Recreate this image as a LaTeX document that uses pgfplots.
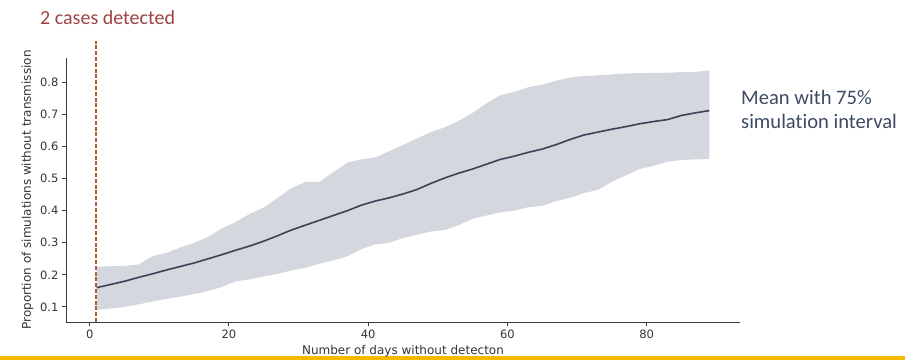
\documentclass[border=0pt]{standalone}
\usepackage{fontspec}
\setmainfont{DejaVu Sans}
\newfontfamily\calfont[Ligatures={NoCommon,NoContextual}]{Carlito}
\usepackage{pgfplots}
\pgfplotsset{compat=1.18}
\definecolor{bandc}{HTML}{D5D7DF}
\definecolor{meanc}{HTML}{3B4257}
\definecolor{dashc}{HTML}{B35A3A}
\definecolor{titlec}{HTML}{9E4244}
\definecolor{notec}{HTML}{3D4A63}
\definecolor{barc}{HTML}{F7B900}
\definecolor{axc}{HTML}{3A3A3A}

\begin{document}
\begin{tikzpicture}
\path[use as bounding box] (0pt,0pt) rectangle (905pt,360pt);
\fill[barc] (0pt,0pt) rectangle (905pt,4.5pt);
\begin{axis}[
  at={(66pt,38pt)}, anchor=south west,
  scale only axis, width=674pt, height=264pt,
  xmin=-3.4, xmax=93.4, ymin=0.053, ymax=0.876,
  axis lines*=left,
  axis line style={axc, line width=0.9pt},
  tick style={axc, line width=0.9pt},
  major tick length=4pt,
  tick align=outside,
  xtick={0,20,40,60,80},
  ytick={0.1,0.2,0.3,0.4,0.5,0.6,0.7,0.8},
  yticklabel style={/pgf/number format/fixed,/pgf/number format/precision=1,/pgf/number format/fixed zerofill},
  /pgf/number format/assume math mode=true,
  ticklabel style={font=\fontsize{11.5}{13}\selectfont, text=black!80},
  xlabel={Number of days without detecton},
  ylabel={Proportion of simulations without transmission},
  label style={font=\fontsize{12}{14}\selectfont, text=black!80},
  clip=false,
]
% 75% simulation interval: upper edge (left to right), then lower edge (right to left)
\addplot[fill=bandc, draw=none] coordinates {
(1,0.225) (3,0.227) (5,0.228) (7,0.232) (9,0.258) (11,0.268) (13,0.285) (15,0.300)
(17,0.318) (19,0.345) (21,0.365) (23,0.390) (25,0.410) (27,0.440) (29,0.470) (31,0.490)
(33,0.490) (35,0.520) (37,0.550) (39,0.560) (41,0.566) (43,0.585) (45,0.605) (47,0.625)
(49,0.645) (51,0.660) (53,0.680) (55,0.705) (57,0.735) (59,0.760) (61,0.770) (63,0.785)
(65,0.793) (67,0.805) (69,0.815) (71,0.820) (73,0.822) (75,0.825) (77,0.828) (79,0.829)
(81,0.830) (83,0.830) (85,0.832) (87,0.832) (89,0.838)
(89,0.561) (87,0.560) (85,0.558) (83,0.553) (81,0.540) (79,0.530) (77,0.510) (75,0.490)
(73,0.465) (71,0.455) (69,0.440) (67,0.430) (65,0.415) (63,0.411) (61,0.400) (59,0.395)
(57,0.385) (55,0.375) (53,0.355) (51,0.340) (49,0.335) (47,0.325) (45,0.315) (43,0.300)
(41,0.295) (39,0.280) (37,0.258) (35,0.245) (33,0.235) (31,0.222) (29,0.214) (27,0.203)
(25,0.195) (23,0.186) (21,0.180) (19,0.162) (17,0.150) (15,0.140) (13,0.132) (11,0.125)
(9,0.117) (7,0.108) (5,0.100) (3,0.095) (1,0.091)
} -- cycle;
% mean
\addplot[meanc, line width=1.6pt] coordinates {
(1,0.160) (3,0.170) (5,0.180) (7,0.192) (9,0.203) (11,0.215) (13,0.226) (15,0.237)
(17,0.250) (19,0.263) (21,0.277) (23,0.290) (25,0.305) (27,0.322) (29,0.340) (31,0.355)
(33,0.370) (35,0.385) (37,0.400) (39,0.417) (41,0.430) (43,0.440) (45,0.452) (47,0.466)
(49,0.485) (51,0.502) (53,0.517) (55,0.530) (57,0.545) (59,0.560) (61,0.570) (63,0.582)
(65,0.592) (67,0.606) (69,0.622) (71,0.636) (73,0.645) (75,0.654) (77,0.662) (79,0.671)
(81,0.678) (83,0.684) (85,0.697) (87,0.705) (89,0.712)
};
\addplot[dashc, line width=2.4pt, dash pattern=on 4pt off 1.8pt] coordinates {(0.9,0.053) (0.9,0.928)};
\end{axis}
\node[anchor=base west, text=titlec, font=\calfont\fontsize{20}{24}\selectfont, inner sep=0pt] at (40pt,336pt) {2 cases detected};
\node[anchor=base west, text=notec, font=\calfont\fontsize{20.6}{24}\selectfont, inner sep=0pt] at (741pt,256pt) {Mean with 75\%};
\node[anchor=base west, text=notec, font=\calfont\fontsize{20.6}{24}\selectfont, inner sep=0pt] at (741pt,232pt) {simulation interval};
\end{tikzpicture}
\end{document}
